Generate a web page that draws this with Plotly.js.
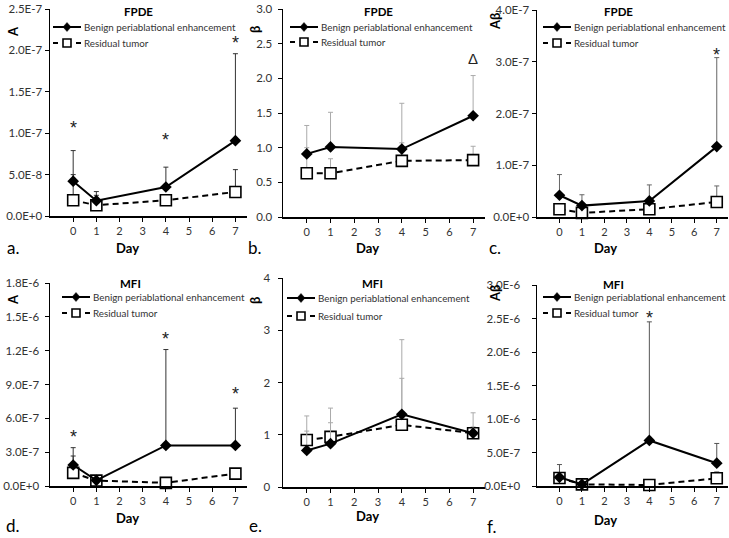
<!DOCTYPE html>
<html><head><meta charset="utf-8">
<script src="https://cdn.plot.ly/plotly-3.0.1.min.js"></script>
<style>html,body{margin:0;padding:0;background:#fff}#chart{width:729px;height:538px}</style>
</head><body><div id="chart"></div>
<script>
// ---- data ----
var days = [0, 1, 4, 7];
var dayTicks = [0, 1, 2, 3, 4, 5, 6, 7];
var seriesNames = ["Benign periablational enhancement", "Residual tumor"];

// a. FPDE, A
var aBenign = [4.2e-8, 1.85e-8, 3.5e-8, 9.1e-8];
var aBenignSD = [3.7e-8, 1.1e-8, 2.4e-8, 1.05e-7];
var aResid = [1.9e-8, 1.3e-8, 1.9e-8, 2.9e-8];
var aResidSD = [3.1e-8, 1.2e-8, 0.3e-8, 2.7e-8];
var aStarDays = [0, 4, 7];
var aStarY = [1.12e-7, 0.98e-7, 2.15e-7];
var aTickVals = [0, 5e-8, 1e-7, 1.5e-7, 2e-7, 2.5e-7];
var aTickText = ["0.0E+0", "5.0E-8", "1.0E-7", "1.5E-7", "2.0E-7", "2.5E-7"];

// b. FPDE, beta
var bBenign = [0.91, 1.01, 0.98, 1.46];
var bBenignSD = [0.41, 0.50, 0.66, 0.58];
var bResid = [0.63, 0.63, 0.81, 0.82];
var bResidSD = [0.37, 0.21, 0.26, 0.2];
var bStarDays = [7];
var bStarY = [2.28];
var bTickVals = [0, 0.5, 1, 1.5, 2, 2.5, 3];
var bTickText = ["0.0", "0.5", "1.0", "1.5", "2.0", "2.5", "3.0"];

// c. FPDE, A*beta
var cBenign = [4.2e-8, 2.2e-8, 3.1e-8, 1.36e-7];
var cBenignSD = [4.0e-8, 2.1e-8, 3.1e-8, 1.72e-7];
var cResid = [1.5e-8, 0.8e-8, 1.5e-8, 2.9e-8];
var cResidSD = [1.0e-8, 0.5e-8, 1.0e-8, 3.1e-8];
var cStarDays = [7];
var cStarY = [3.23e-7];
var cTickVals = [0, 1e-7, 2e-7, 3e-7, 4e-7];
var cTickText = ["0.0E+0", "1.0E-7", "2.0E-7", "3.0E-7", "4.0E-7"];

// d. MFI, A
var dBenign = [1.86e-7, 0.5e-7, 3.6e-7, 3.6e-7];
var dBenignSD = [1.54e-7, 0.2e-7, 8.5e-7, 3.3e-7];
var dResid = [1.16e-7, 0.48e-7, 0.28e-7, 1.1e-7];
var dResidSD = [1.5e-7, 0.1e-7, 0.1e-7, 0.3e-7];
var dStarDays = [0, 4, 7];
var dStarY = [4.8e-7, 1.35e-6, 8.6e-7];
var dTickVals = [0, 3e-7, 6e-7, 9e-7, 1.2e-6, 1.5e-6, 1.8e-6];
var dTickText = ["0.0E+0", "3.0E-7", "6.0E-7", "9.0E-7", "1.2E-6", "1.5E-6", "1.8E-6"];

// e. MFI, beta
var eBenign = [0.70, 0.83, 1.39, 1.03];
var eBenignSD = [0.37, 0.40, 1.43, 0.39];
var eResid = [0.90, 0.96, 1.19, 1.03];
var eResidSD = [0.46, 0.55, 0.89, 0.12];
var eStarDays = [];
var eStarY = [];
var eTickVals = [0, 1, 2, 3, 4];
var eTickText = ["0", "1", "2", "3", "4"];

// f. MFI, A*beta
var fBenign = [1.3e-7, 0.25e-7, 6.8e-7, 3.4e-7];
var fBenignSD = [1.9e-7, 0.2e-7, 1.77e-6, 2.95e-7];
var fResid = [1.2e-7, 0.25e-7, 0.15e-7, 1.15e-7];
var fResidSD = [0.6e-7, 0.1e-7, 0.1e-7, 0.95e-7];
var fStarDays = [4];
var fStarY = [2.58e-6];
var fTickVals = [0, 5e-7, 1e-6, 1.5e-6, 2e-6, 2.5e-6, 3e-6];
var fTickText = ["0.0E+0", "5.0E-7", "1.0E-6", "1.5E-6", "2.0E-6", "2.5E-6", "3.0E-6"];

// ---- panel config (positions / styles) ----
var W = 729, H = 538;
var FONT = "Lato, 'Open Sans', sans-serif";
var panels = [
  {b: aBenign, bs: aBenignSD, r: aResid, rs: aResidSD, sd: aStarDays, sy: aStarY, star: "*", tv: aTickVals, tt: aTickText,
   ymax: 2.5e-7, title: "FPDE", ytitle: "A", label: "a.", errc: "#333", so: 0,
   px: [50, 247], py: [9, 216], tpos: [138, 12], ytpos: [13, 32], xtpos: [127, 248], lpos: [13, 248], leg: [53, 27, 43]},
  {b: bBenign, bs: bBenignSD, r: bResid, rs: bResidSD, sd: bStarDays, sy: bStarY, star: "Δ", tv: bTickVals, tt: bTickText,
   ymax: 3, title: "FPDE", ytitle: "β", label: "b.", errc: "#aaa", so: 3,
   px: [283, 485], py: [9, 217], tpos: [378, 12], ytpos: [255, 30], xtpos: [367, 248], lpos: [255, 248], leg: [290, 27, 42]},
  {b: cBenign, bs: cBenignSD, r: cResid, rs: cResidSD, sd: cStarDays, sy: cStarY, star: "*", tv: cTickVals, tt: cTickText,
   ymax: 4e-7, title: "FPDE", ytitle: "Aβ", label: "c.", errc: "#666", so: 0,
   px: [537, 728], py: [10, 217], tpos: [618, 12], ytpos: [495, 22], xtpos: [605, 248], lpos: [495, 248], leg: [543, 27, 43]},
  {b: dBenign, bs: dBenignSD, r: dResid, rs: dResidSD, sd: dStarDays, sy: dStarY, star: "*", tv: dTickVals, tt: dTickText,
   ymax: 1.8e-6, title: "MFI", ytitle: "A", label: "d.", errc: "#333", so: 3,
   px: [50, 247], py: [283, 486], tpos: [130, 283], ytpos: [13, 300], xtpos: [127, 518], lpos: [13, 525], leg: [62, 297, 313]},
  {b: eBenign, bs: eBenignSD, r: eResid, rs: eResidSD, sd: eStarDays, sy: eStarY, star: "*", tv: eTickVals, tt: eTickText,
   ymax: 4, title: "MFI", ytitle: "β", label: "e.", errc: "#aaa", so: 5,
   px: [283, 485], py: [278, 487], tpos: [372, 283], ytpos: [255, 301], xtpos: [367, 516], lpos: [255, 525], leg: [287, 298, 316]},
  {b: fBenign, bs: fBenignSD, r: fResid, rs: fResidSD, sd: fStarDays, sy: fStarY, star: "*", tv: fTickVals, tt: fTickText,
   ymax: 3e-6, title: "MFI", ytitle: "Aβ", label: "f.", errc: "#555", so: 9,
   px: [537, 728], py: [285, 486], tpos: [613, 284], ytpos: [495, 294], xtpos: [605, 520], lpos: [492, 526], leg: [543, 297, 313]}
];

function PX(x) { return x / W; }
function PY(y) { return 1 - y / H; }

var data = [];
var layout = {
  width: W, height: H, margin: {l: 0, r: 0, t: 0, b: 0},
  paper_bgcolor: "#fff", plot_bgcolor: "rgba(0,0,0,0)",
  font: {family: FONT, size: 11, color: "#333"},
  showlegend: false, annotations: [], shapes: []
};

panels.forEach(function (p, i) {
  var n = i === 0 ? "" : String(i + 1);
  var xa = "x" + n, ya = "y" + n;
  data.push({
    x: days, y: p.r, xaxis: xa, yaxis: ya, name: seriesNames[1], type: "scatter", mode: "lines+markers",
    line: {color: "#000", width: 2, dash: "6px,4px"},
    marker: {symbol: "square", size: 11, color: "#fff", line: {color: "#000", width: 1.6}},
    error_y: {type: "data", symmetric: false, array: p.rs, arrayminus: p.rs.map(function () { return 0; }), color: p.errc, thickness: 1, width: 2.5},
    cliponaxis: false
  });
  data.push({
    x: days, y: p.b, xaxis: xa, yaxis: ya, name: seriesNames[0], type: "scatter", mode: "lines+markers",
    line: {color: "#000", width: 2},
    marker: {symbol: "diamond", size: 9, color: "#000"},
    error_y: {type: "data", symmetric: false, array: p.bs, arrayminus: p.bs.map(function () { return 0; }), color: p.errc, thickness: 1, width: 2.5},
    cliponaxis: false
  });
  layout["xaxis" + n] = {
    domain: [p.px[0] / W, p.px[1] / W], anchor: ya, range: [-1, 7.5],
    tickvals: dayTicks, ticks: "outside", ticklen: 4, tickcolor: "#000",
    showline: true, linecolor: "#000", linewidth: 1.5, showgrid: false, zeroline: false,
    tickfont: {family: FONT, size: 11, color: "#333"}, fixedrange: true
  };
  layout["yaxis" + n] = {
    domain: [1 - p.py[1] / H, 1 - p.py[0] / H], anchor: xa, range: [0, p.ymax],
    tickvals: p.tv, ticktext: p.tt, ticks: "outside", ticklen: 4, tickcolor: "#000", ticklabelstandoff: p.so,
    showline: true, linecolor: "#000", linewidth: 1.5, showgrid: false, zeroline: false,
    tickfont: {family: FONT, size: 11.5, color: "#333"}, fixedrange: true
  };

  // ---- legend (drawn manually) ----
  var L = p.leg[0], y1 = p.leg[1], y2 = p.leg[2];
  layout.shapes.push({type: "line", xref: "paper", yref: "paper", x0: PX(L), x1: PX(L + 28), y0: PY(y1), y1: PY(y1), line: {color: "#000", width: 2}});
  layout.shapes.push({type: "path", xref: "paper", yref: "paper",
    path: "M" + PX(L + 14) + "," + PY(y1 - 4.5) + " L" + PX(L + 18) + "," + PY(y1) + " L" + PX(L + 14) + "," + PY(y1 + 4.5) + " L" + PX(L + 10) + "," + PY(y1) + " Z",
    fillcolor: "#000", line: {color: "#000", width: 0.5}});
  layout.shapes.push({type: "line", xref: "paper", yref: "paper", x0: PX(L), x1: PX(L + 5), y0: PY(y2), y1: PY(y2), line: {color: "#000", width: 2}});
  layout.shapes.push({type: "line", xref: "paper", yref: "paper", x0: PX(L + 23), x1: PX(L + 28), y0: PY(y2), y1: PY(y2), line: {color: "#000", width: 2}});
  layout.shapes.push({type: "rect", xref: "paper", yref: "paper", x0: PX(L + 10), x1: PX(L + 18), y0: PY(y2 - 4), y1: PY(y2 + 4),
    fillcolor: "#fff", line: {color: "#000", width: 1.6}});
  layout.annotations.push({xref: "paper", yref: "paper", x: PX(L + 29), y: PY(y1), text: seriesNames[0], showarrow: false,
    xanchor: "left", yanchor: "middle", font: {family: FONT, size: 9.8, color: "#333"}});
  layout.annotations.push({xref: "paper", yref: "paper", x: PX(L + 29), y: PY(y2), text: seriesNames[1], showarrow: false,
    xanchor: "left", yanchor: "middle", font: {family: FONT, size: 9.8, color: "#333"}});

  // titles & labels
  layout.annotations.push({xref: "paper", yref: "paper", x: PX(p.tpos[0]), y: PY(p.tpos[1]), text: "<b>" + p.title + "</b>",
    showarrow: false, xanchor: "center", yanchor: "middle", font: {family: FONT, size: 11.5, color: "#000"}});
  layout.annotations.push({xref: "paper", yref: "paper", x: PX(p.ytpos[0]), y: PY(p.ytpos[1]), text: "<b>" + p.ytitle + "</b>",
    showarrow: false, xanchor: "center", yanchor: "middle", textangle: -90, font: {family: FONT, size: 13, color: "#000"}});
  layout.annotations.push({xref: "paper", yref: "paper", x: PX(p.xtpos[0]), y: PY(p.xtpos[1]), text: "<b>Day</b>",
    showarrow: false, xanchor: "center", yanchor: "middle", font: {family: FONT, size: 13, color: "#000"}});
  layout.annotations.push({xref: "paper", yref: "paper", x: PX(p.lpos[0]), y: PY(p.lpos[1]), text: p.label,
    showarrow: false, xanchor: "center", yanchor: "middle", font: {family: FONT, size: 17, color: "#000"}});
  p.sd.forEach(function (d, k) {
    layout.annotations.push({xref: xa, yref: ya, x: d, y: p.sy[k], text: p.star, showarrow: false,
      xanchor: "center", yanchor: "middle", yshift: p.star === "*" ? -5 : 0,
      font: {family: "'Liberation Sans', 'DejaVu Sans', sans-serif", size: p.star === "*" ? 18 : 15, color: "#222"}});
  });
});

Plotly.newPlot("chart", data, layout, {staticPlot: true, displayModeBar: false});
</script>
</body></html>
